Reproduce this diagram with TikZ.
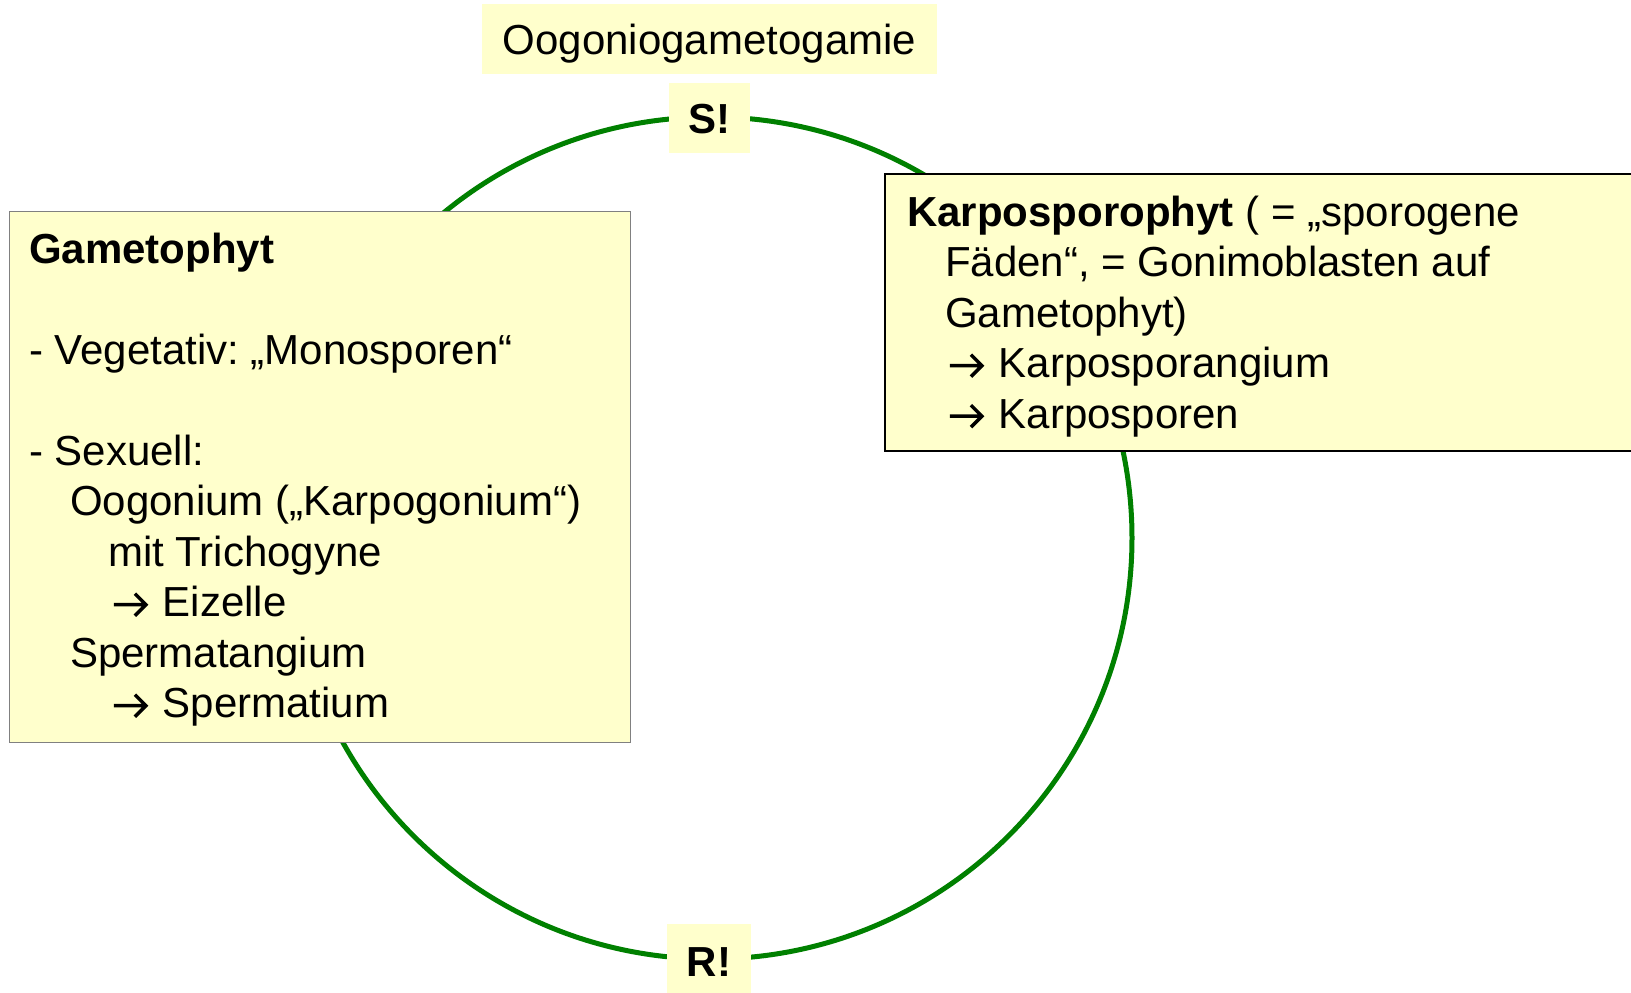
\documentclass[tikz,border=0pt]{standalone}
\usepackage{fontspec}
\setmainfont{Liberation Sans}
\definecolor{PaleYellow}{RGB}{255, 255, 204}
\definecolor{CycleGreen}{RGB}{0, 128, 0}
\usetikzlibrary{positioning}
\newcommand{\arr}{\tikz[baseline=0pt, x=1pt, y=1pt, line width=3.5pt]{\draw (0,12) -- (32,12) (21,23) -- (32,12) -- (21,1);}}
\frenchspacing

\begin{document}
\begin{tikzpicture}[
        x=1pt, y=-1pt,
        tag/.style={rectangle, fill=PaleYellow, inner sep=0pt, minimum height=70pt, text depth=0pt, font=\fontsize{42}{50.5}\selectfont},
        panel/.style={rectangle, fill=PaleYellow, anchor=north west, inner sep=0pt},
        paneltext/.style={align=left, inner sep=0pt, font=\fontsize{42}{50.5}\selectfont},
        cycleline/.style={CycleGreen, line width=5pt}
    ]
        \useasboundingbox (0,0) rectangle (1631,993);

        % Cycle
        \coordinate (centre) at (711,538);
        \draw[cycleline] (centre) circle[radius=421];

        % Nodes
        \node[tag, minimum width=455pt, text height=31pt] (ooga) at (709.5,39) {Oogoniogametogamie};
        \node[tag, minimum width=81pt, text height=30pt, font=\fontsize{42}{50.5}\selectfont\bfseries, below=9pt of ooga] (sbox) {S!};
        \node[tag, minimum width=84pt, text height=35pt, font=\fontsize{42}{50.5}\selectfont\bfseries] (rbox) at (709,958.5) {R!};

        \node[panel, draw=gray, line width=1pt, minimum width=621pt, minimum height=531pt] (gam) at (9,211) {};
        \node[paneltext, below right=12pt and 20pt of gam.north west] (gamtext)
            {\rule{0pt}{40pt}\textbf{Gametophyt}\\[50.5pt]
             - Vegetativ: „Monosporen“\\[50.5pt]
             - Sexuell:\\
             \hspace*{41pt}Oogonium („Karpogonium“)\\
             \hspace*{79pt}mit Trichogyne\\
             \hspace*{83pt}\arr\hspace{15pt}Eizelle\\
             \hspace*{41pt}Spermatangium\\
             \hspace*{83pt}\arr\hspace{15pt}Spermatium};

        \node[panel, draw=black, line width=1.5pt, minimum width=800pt, minimum height=277pt] (karp) at (884,173) {};
        \node[paneltext, below right=13pt and 23pt of karp.north west] (karptext)
            {\rule{0pt}{40pt}\textbf{Karposporophyt} ( = „sporogene\\
             \hspace*{38pt}Fäden“, = Gonimoblasten auf\\
             \hspace*{38pt}Gametophyt)\\
             \hspace*{41pt}\arr\hspace{15pt}Karposporangium\\
             \hspace*{41pt}\arr\hspace{15pt}Karposporen};
    \end{tikzpicture}
\end{document}
